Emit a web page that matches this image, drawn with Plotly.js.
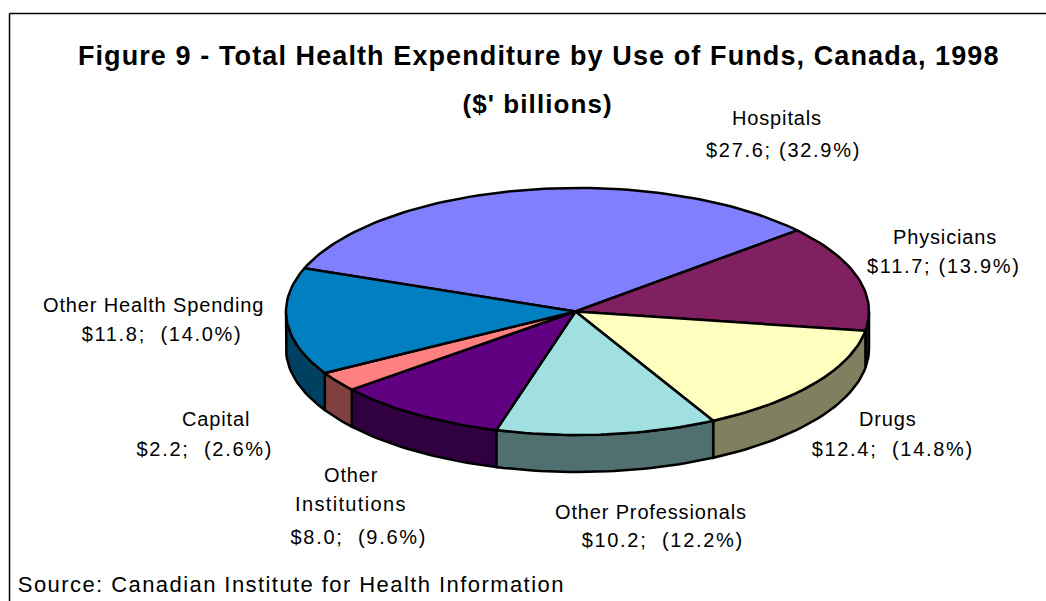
<!DOCTYPE html>
<html>
<head>
<meta charset="utf-8">
<script src="https://cdn.plot.ly/plotly-3.0.1.min.js"></script>
<style>
html,body{margin:0;padding:0;background:#fff;}
#chart{width:1046px;height:601px;}
.annotation-text{letter-spacing:0.85px;}
.annotation[data-index="1"] .annotation-text,.annotation[data-index="3"] .annotation-text,
.annotation[data-index="5"] .annotation-text,.annotation[data-index="7"] .annotation-text,
.annotation[data-index="10"] .annotation-text,.annotation[data-index="12"] .annotation-text,
.annotation[data-index="14"] .annotation-text{letter-spacing:1.7px;}
.annotation[data-index="9"] .annotation-text{letter-spacing:1.35px;}
.annotation[data-index="15"] .annotation-text,.annotation[data-index="16"] .annotation-text{letter-spacing:1.1px;}
.annotation[data-index="17"] .annotation-text{letter-spacing:1.43px;}
</style>
</head>
<body>
<div id="chart"></div>
<script>
const categories = ["Hospitals","Physicians","Drugs","Other Professionals","Other Institutions","Capital","Other Health Spending"];
const amounts = [27.6,11.7,12.4,10.2,8.0,2.2,11.8];
const shares = [32.9,13.9,14.8,12.2,9.6,2.6,14.0];
const topColors = ["#8080FF","#802060","#FFFFC0","#A0E0E0","#600080","#FF8080","#0080C0"];
const sideColors = ["#404080","#401030","#808060","#507070","#300040","#804040","#004060"];

// geometry of the tilted pie, in axis units
const cx = 577.5, cy = 311.5, rx = 291.5, ry = 123.5, depth = 37, startDeg = 159.5, apexX = 575.5;
const px = d => cx + rx * Math.cos(d * Math.PI / 180);
const py = (d, off) => cy - ry * Math.sin(d * Math.PI / 180) + (off || 0);
const total = shares.reduce((a, b) => a + b, 0);

function arc(a, b, off) {
  const n = Math.max(2, Math.ceil(Math.abs(a - b) / 1.5));
  const xs = [], ys = [];
  for (let i = 0; i <= n; i++) {
    const d = a + (b - a) * i / n;
    xs.push(px(d)); ys.push(py(d, off));
  }
  return [xs, ys];
}

const sides = [], tops = [];
let angle = startDeg;
shares.forEach((s, i) => {
  const a = angle, b = angle - s / total * 360;
  angle = b;
  const [tx, ty] = arc(a, b, 0);
  tops.push({x: [apexX, ...tx, apexX], y: [cy, ...ty, cy], mode: "lines", fill: "toself",
    fillcolor: topColors[i], line: {color: "#000", width: 2.5}, hoverinfo: "skip", showlegend: false, name: categories[i]});
  const hi = Math.min(a, 0), lo = Math.max(b, -180);
  if (hi > lo) {
    const [ux, uy] = arc(hi, lo, 0);
    const [lx, ly] = arc(lo, hi, depth);
    sides.push({x: [...ux, ...lx, ux[0]], y: [...uy, ...ly, uy[0]], mode: "lines", fill: "toself",
      fillcolor: sideColors[i], line: {color: "#000", width: 2.5}, hoverinfo: "skip", showlegend: false, name: categories[i] + " side"});
  }
});

const S = "\u00a0";
const labels = [
  ["Hospitals", 776.5, 118], ["$27.6; (32.9%)", 783, 150],
  ["Physicians", 944.5, 237], ["$11.7; (13.9%)", 944, 266],
  ["Drugs", 888, 419], ["$12.4;" + S + " (14.8%)", 893, 449],
  ["Other Professionals", 651, 512], ["$10.2;" + S + " (12.2%)", 662.5, 540],
  ["Other", 351, 475], ["Institutions", 351, 504], ["$8.0;" + S + " (9.6%)", 358.5, 537],
  ["Capital", 215.5, 419], ["$2.2;" + S + " (2.6%)", 204.5, 449],
  ["Other Health Spending", 153, 305], ["$11.8;" + S + " (14.0%)", 162, 334]
];
const ann = labels.map(l => ({x: l[1], y: l[2], text: l[0], showarrow: false, xref: "x", yref: "y",
  xanchor: "center", yanchor: "middle", font: {family: "Liberation Sans", size: 20, color: "#000"}}));
ann.push({x: 538.5, y: 56, xref: "x", yref: "y", text: "<b>Figure 9 - Total Health Expenditure by Use of Funds, Canada, 1998</b>", showarrow: false,
  xanchor: "center", yanchor: "middle", font: {family: "Liberation Sans", size: 27, color: "#000"}});
ann.push({x: 537, y: 104, xref: "x", yref: "y", text: "<b>($' billions)</b>", showarrow: false,
  xanchor: "center", yanchor: "middle", font: {family: "Liberation Sans", size: 26, color: "#000"}});
ann.push({x: 291, y: 584, xref: "x", yref: "y", text: "Source: Canadian Institute for Health Information", showarrow: false,
  xanchor: "center", yanchor: "middle", font: {family: "Liberation Sans", size: 22, color: "#000"}});

Plotly.newPlot("chart", [...sides, ...tops], {
  width: 1046, height: 601, margin: {l: 0, r: 0, t: 0, b: 0},
  paper_bgcolor: "#fff", plot_bgcolor: "#fff", showlegend: false,
  xaxis: {range: [0, 1046], visible: false, fixedrange: true},
  yaxis: {range: [601, 0], visible: false, fixedrange: true},
  annotations: ann,
  shapes: [
    {type: "line", xref: "paper", yref: "paper", x0: 9.5/1046, x1: 1, y0: 1-13.5/601, y1: 1-13.5/601, line: {color: "#000", width: 1.5}},
    {type: "line", xref: "paper", yref: "paper", x0: 9.5/1046, x1: 9.5/1046, y0: 1-13.5/601, y1: 0, line: {color: "#000", width: 1.5}}
  ]
}, {displayModeBar: false, staticPlot: true});
</script>
</body>
</html>
